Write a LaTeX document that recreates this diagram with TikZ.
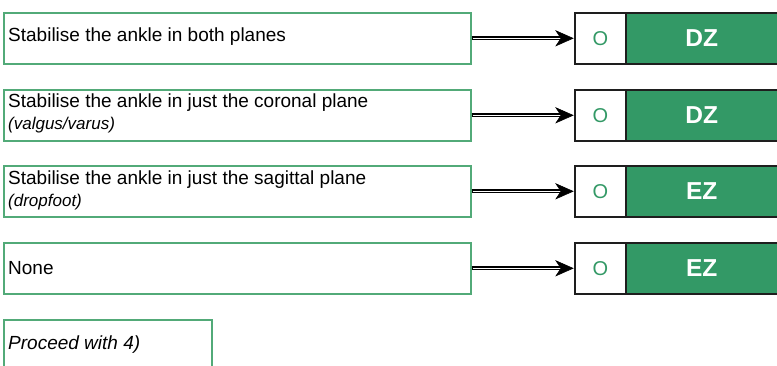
\documentclass[tikz,border=0pt]{standalone}
\usepackage{fontspec}
\setmainfont{Liberation Sans}
\usetikzlibrary{arrows.meta}
\definecolor{boxgreen}{RGB}{82,170,120}
\definecolor{fillgreen}{RGB}{51,153,102}
\definecolor{dark}{RGB}{30,30,30}
\tikzset{
  x=1pt,y=-1pt,
  qbox/.style={draw=boxgreen,line width=1.6pt,rectangle,anchor=north west,inner sep=0pt},
  obox/.style={draw=dark,line width=1.6pt,fill=white,anchor=north west,inner sep=0pt,minimum width=51pt,minimum height=51pt,text=fillgreen,font=\fontsize{20}{24}\selectfont},
  zbox/.style={draw=dark,line width=1.6pt,fill=fillgreen,anchor=north west,inner sep=0pt,minimum width=160pt,minimum height=51pt,text=white,font=\fontsize{24.5}{29}\selectfont\bfseries},
  txt/.style={anchor=west,inner sep=0pt,font=\fontsize{19}{23}\selectfont},
  sub/.style={anchor=west,inner sep=0pt,font=\fontsize{17}{20}\selectfont\itshape},
  arrout/.style={draw=black,line width=4.4pt,shorten >=10pt},
  arrin/.style={draw=white,line width=1.4pt,shorten >=10pt,shorten <=1pt},
  arrhead/.style={fill=black,draw=black,line width=0.6pt,line join=miter}
}
\begin{document}
\begin{tikzpicture}
\useasboundingbox (0,0) rectangle (777,366);
\begin{scope}
\clip (0,0) rectangle (777,366);
\foreach \i/\y in {1/12,2/89,3/165,4/242}{
  \node[qbox,minimum width=467pt,minimum height=51pt] (q\i) at (3,\y) {};
  \node[obox] (o\i) at (574,\y) {O};
  \node[zbox] (z\i) at (625,\y) {};
}
\node[txt] (t1) at (8,37) {Stabilise the ankle in both planes};
\node[txt] (t2) at (8,103) {Stabilise the ankle in just the coronal plane};
\node[sub] (s2) at (8,125) {(valgus/varus)};
\node[txt] (t3) at (8,180) {Stabilise the ankle in just the sagittal plane};
\node[sub] (s3) at (8,202) {(dropfoot)};
\node[txt] (t4) at (8,268) {None};
\node[zbox,draw=none,fill=none,minimum width=152pt] (l1) at (625,12) {DZ};
\node[zbox,draw=none,fill=none,minimum width=152pt] (l2) at (625,89) {DZ};
\node[zbox,draw=none,fill=none,minimum width=152pt] (l3) at (625,165) {EZ};
\node[zbox,draw=none,fill=none,minimum width=152pt] (l4) at (625,242) {EZ};
\foreach \i in {1,2,3,4}{
  \draw[arrout] (q\i.east) -- (o\i.west);
  \draw[arrin] (q\i.east) -- (o\i.west);
  \path[arrhead] ([xshift=-1pt]o\i.west) -- ++(-17,-7.5) -- ++(5,7.5) -- ++(-5,7.5) -- cycle;
}
\node[qbox,minimum width=208pt,minimum height=60pt] (p) at (3,319) {};
\node[txt,font=\fontsize{19}{23}\selectfont\itshape] (pt) at (8,345) {Proceed with 4)};
\end{scope}
\end{tikzpicture}
\end{document}
